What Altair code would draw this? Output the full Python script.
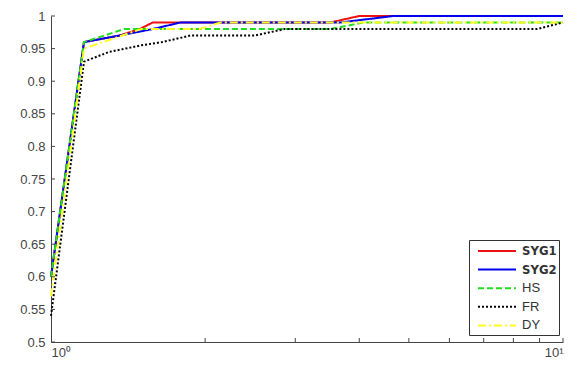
import altair as alt
import pandas as pd

series = ["SYG1", "SYG2", "HS", "FR", "DY"]
colors = ["#ee1111", "#0000ee", "#22dd22", "#000000", "#ffff22"]
dashes = [[1, 0], [1, 0], [6, 3], [2, 2], [8, 3, 2, 3]]

syg1_x = [1, 1.16, 1.36, 1.49, 1.58, 3.51, 4.0, 10]
syg1_y = [0.60, 0.96, 0.97, 0.98, 0.99, 0.99, 1.0, 1.0]
syg2_x = [1, 1.16, 1.36, 1.58, 1.79, 3.67, 4.66, 10]
syg2_y = [0.60, 0.96, 0.97, 0.98, 0.99, 0.99, 1.0, 1.0]
hs_x = [1, 1.16, 1.39, 3.51, 4.07, 10]
hs_y = [0.60, 0.96, 0.98, 0.98, 0.99, 0.99]
fr_x = [1, 1.16, 1.3, 1.5, 1.65, 1.87, 2.5, 2.86, 8.9, 10]
fr_y = [0.54, 0.93, 0.945, 0.955, 0.96, 0.97, 0.97, 0.98, 0.98, 0.99]
dy_x = [1, 1.16, 1.5, 1.95, 2.14, 10]
dy_y = [0.57, 0.95, 0.98, 0.98, 0.99, 0.99]

y_ticks = [0.5, 0.55, 0.6, 0.65, 0.7, 0.75, 0.8, 0.85, 0.9, 0.95, 1.0]
x_minor = [2, 3, 4, 5, 6, 7, 8, 9, 10]

rows = []
for name, xs, ys in [("SYG1", syg1_x, syg1_y), ("SYG2", syg2_x, syg2_y),
                     ("HS", hs_x, hs_y), ("FR", fr_x, fr_y), ("DY", dy_x, dy_y)]:
    for i, (a, b) in enumerate(zip(xs, ys)):
        rows.append({"series": name, "x": a, "y": b, "i": i})
df = pd.DataFrame(rows)

W, H = 512, 326
xscale = alt.Scale(type="log", domain=[1, 10], nice=False)
yscale = alt.Scale(domain=[0.5, 1], nice=False, zero=False)

xaxis = alt.Axis(values=[1, 10], ticks=False, grid=False, title=None,
                 labelExpr="datum.value == 1 ? '10\u2070' : '10\u00b9'",
                 labelFontSize=13, labelPadding=4)
yaxis = alt.Axis(values=y_ticks, format="~g", ticks=False, grid=False,
                 title=None, labelFontSize=13, labelPadding=6)

narrow = "'Liberation Sans Narrow', 'DejaVu Sans Condensed', sans-serif"
legend = alt.Legend(title=None, orient="none", legendX=418, legendY=224,
                    fillColor="white", strokeColor="#333333", padding=2,
                    symbolType="M-0.25,0H4.5", symbolSize=256, symbolStrokeWidth=2,
                    labelFontSize=13, labelColor="#333333",
                    rowPadding=2.6, labelOffset=33,
                    labelExpr="datum.label + '\u00a0\u00a0\u00a0'",
                    labelFont=alt.ExprRef("indexof(datum.label, 'SYG') == 0 ? \"" + narrow + "\" : 'Liberation Sans'"),
                    labelFontWeight=alt.ExprRef("indexof(datum.label, 'SYG') == 0 ? 'bold' : 'normal'"))

lines = alt.Chart(df).mark_line(strokeWidth=2).encode(
    x=alt.X("x:Q", scale=xscale, axis=xaxis),
    y=alt.Y("y:Q", scale=yscale, axis=yaxis),
    color=alt.Color("series:N", scale=alt.Scale(domain=series, range=colors), legend=legend),
    strokeDash=alt.StrokeDash("series:N", scale=alt.Scale(domain=series, range=dashes), legend=legend),
    order="i:Q",
)

ytick = alt.Chart(pd.DataFrame({"t": y_ticks})).mark_rule(color="#444444").encode(
    y=alt.Y("t:Q", scale=yscale, axis=yaxis), x=alt.value(0), x2=alt.value(4))
xtick = alt.Chart(pd.DataFrame({"t": x_minor})).mark_rule(color="#444444").encode(
    x=alt.X("t:Q", scale=xscale, axis=xaxis), y=alt.value(H), y2=alt.value(H - 4))

chart = alt.layer(lines, ytick, xtick).properties(
    width=W, height=H,
    autosize=alt.AutoSizeParams(type="none"),
    padding={"left": 43, "top": 8, "right": 7, "bottom": 22},
).configure_view(stroke=None).configure_axis(
    domainColor="#444444", labelColor="#444444", labelFont="Liberation Sans"
)

chart.save("out.html", embed_options={"renderer": "svg", "actions": False})
